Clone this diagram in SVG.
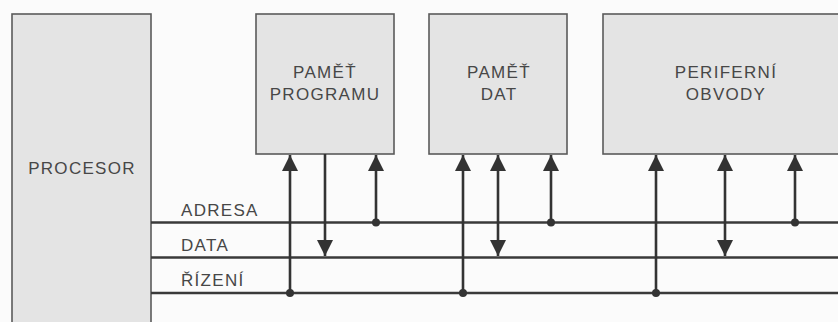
<svg xmlns="http://www.w3.org/2000/svg" width="838" height="322" viewBox="0 0 838 322">
<style>
.box{fill:#e4e4e4;stroke:#5a5a5a;stroke-width:1.6}
.t{font-family:"Liberation Sans",Arial,sans-serif;font-size:17px;fill:#474747;letter-spacing:1.3px}
.bus{stroke:#3a3a3a;stroke-width:2.6;fill:none}
.v{stroke:#333;stroke-width:2.6;fill:none}
.dot{fill:#333}
</style>
<defs>
<marker id="ah" viewBox="0 0 16 16" refX="16" refY="8" markerWidth="16" markerHeight="16" markerUnits="userSpaceOnUse" orient="auto">
<path d="M0,0 L16,8 L0,16 Z" fill="#333"/>
</marker>
<marker id="as" viewBox="0 0 16 16" refX="0" refY="8" markerWidth="16" markerHeight="16" markerUnits="userSpaceOnUse" orient="auto">
<path d="M16,0 L0,8 L16,16 Z" fill="#333"/>
</marker>
</defs>
<rect width="838" height="322" fill="#fbfbfb"/>
<g id="procesor">
<rect class="box" x="12" y="14" width="139" height="320"/>
<text class="t" x="82" y="174" text-anchor="middle">PROCESOR</text>
</g>
<g id="pamet-programu">
<rect class="box" x="256" y="14" width="138" height="140"/>
<text class="t" x="325" y="78" text-anchor="middle">PAMĚŤ</text>
<text class="t" x="325" y="100" text-anchor="middle">PROGRAMU</text>
</g>
<g id="pamet-dat">
<rect class="box" x="429" y="14" width="138" height="140"/>
<text class="t" x="499" y="78" text-anchor="middle">PAMĚŤ</text>
<text class="t" x="499" y="100" text-anchor="middle">DAT</text>
</g>
<g id="periferni-obvody">
<rect class="box" x="603" y="14" width="250" height="140"/>
<text class="t" x="726" y="78" text-anchor="middle">PERIFERNÍ</text>
<text class="t" x="726" y="100" text-anchor="middle">OBVODY</text>
</g>
<g id="connectors">
<line class="bus" x1="151" y1="222.5" x2="838" y2="222.5"/>
<line class="bus" x1="151" y1="257.5" x2="838" y2="257.5"/>
<line class="bus" x1="151" y1="293" x2="838" y2="293"/>
<text class="t" x="181" y="216" font-size="16">ADRESA</text>
<text class="t" x="181" y="251" font-size="16">DATA</text>
<text class="t" x="181" y="286" font-size="16">ŘÍZENÍ</text>
<line class="v" x1="290" y1="293" x2="290" y2="155" marker-end="url(#ah)"/>
<line class="v" x1="325" y1="154" x2="325" y2="256" marker-end="url(#ah)"/>
<line class="v" x1="376" y1="222.5" x2="376" y2="155" marker-end="url(#ah)"/>
<line class="v" x1="463" y1="293" x2="463" y2="155" marker-end="url(#ah)"/>
<line class="v" x1="498" y1="256" x2="498" y2="155" marker-start="url(#as)" marker-end="url(#ah)"/>
<line class="v" x1="551" y1="222.5" x2="551" y2="155" marker-end="url(#ah)"/>
<line class="v" x1="656" y1="293" x2="656" y2="155" marker-end="url(#ah)"/>
<line class="v" x1="725" y1="256" x2="725" y2="155" marker-start="url(#as)" marker-end="url(#ah)"/>
<line class="v" x1="795" y1="222.5" x2="795" y2="155" marker-end="url(#ah)"/>
<circle class="dot" cx="290" cy="293" r="4"/>
<circle class="dot" cx="376" cy="222.5" r="4"/>
<circle class="dot" cx="463" cy="293" r="4"/>
<circle class="dot" cx="551" cy="222.5" r="4"/>
<circle class="dot" cx="656" cy="293" r="4"/>
<circle class="dot" cx="795" cy="222.5" r="4"/>
</g>
</svg>
